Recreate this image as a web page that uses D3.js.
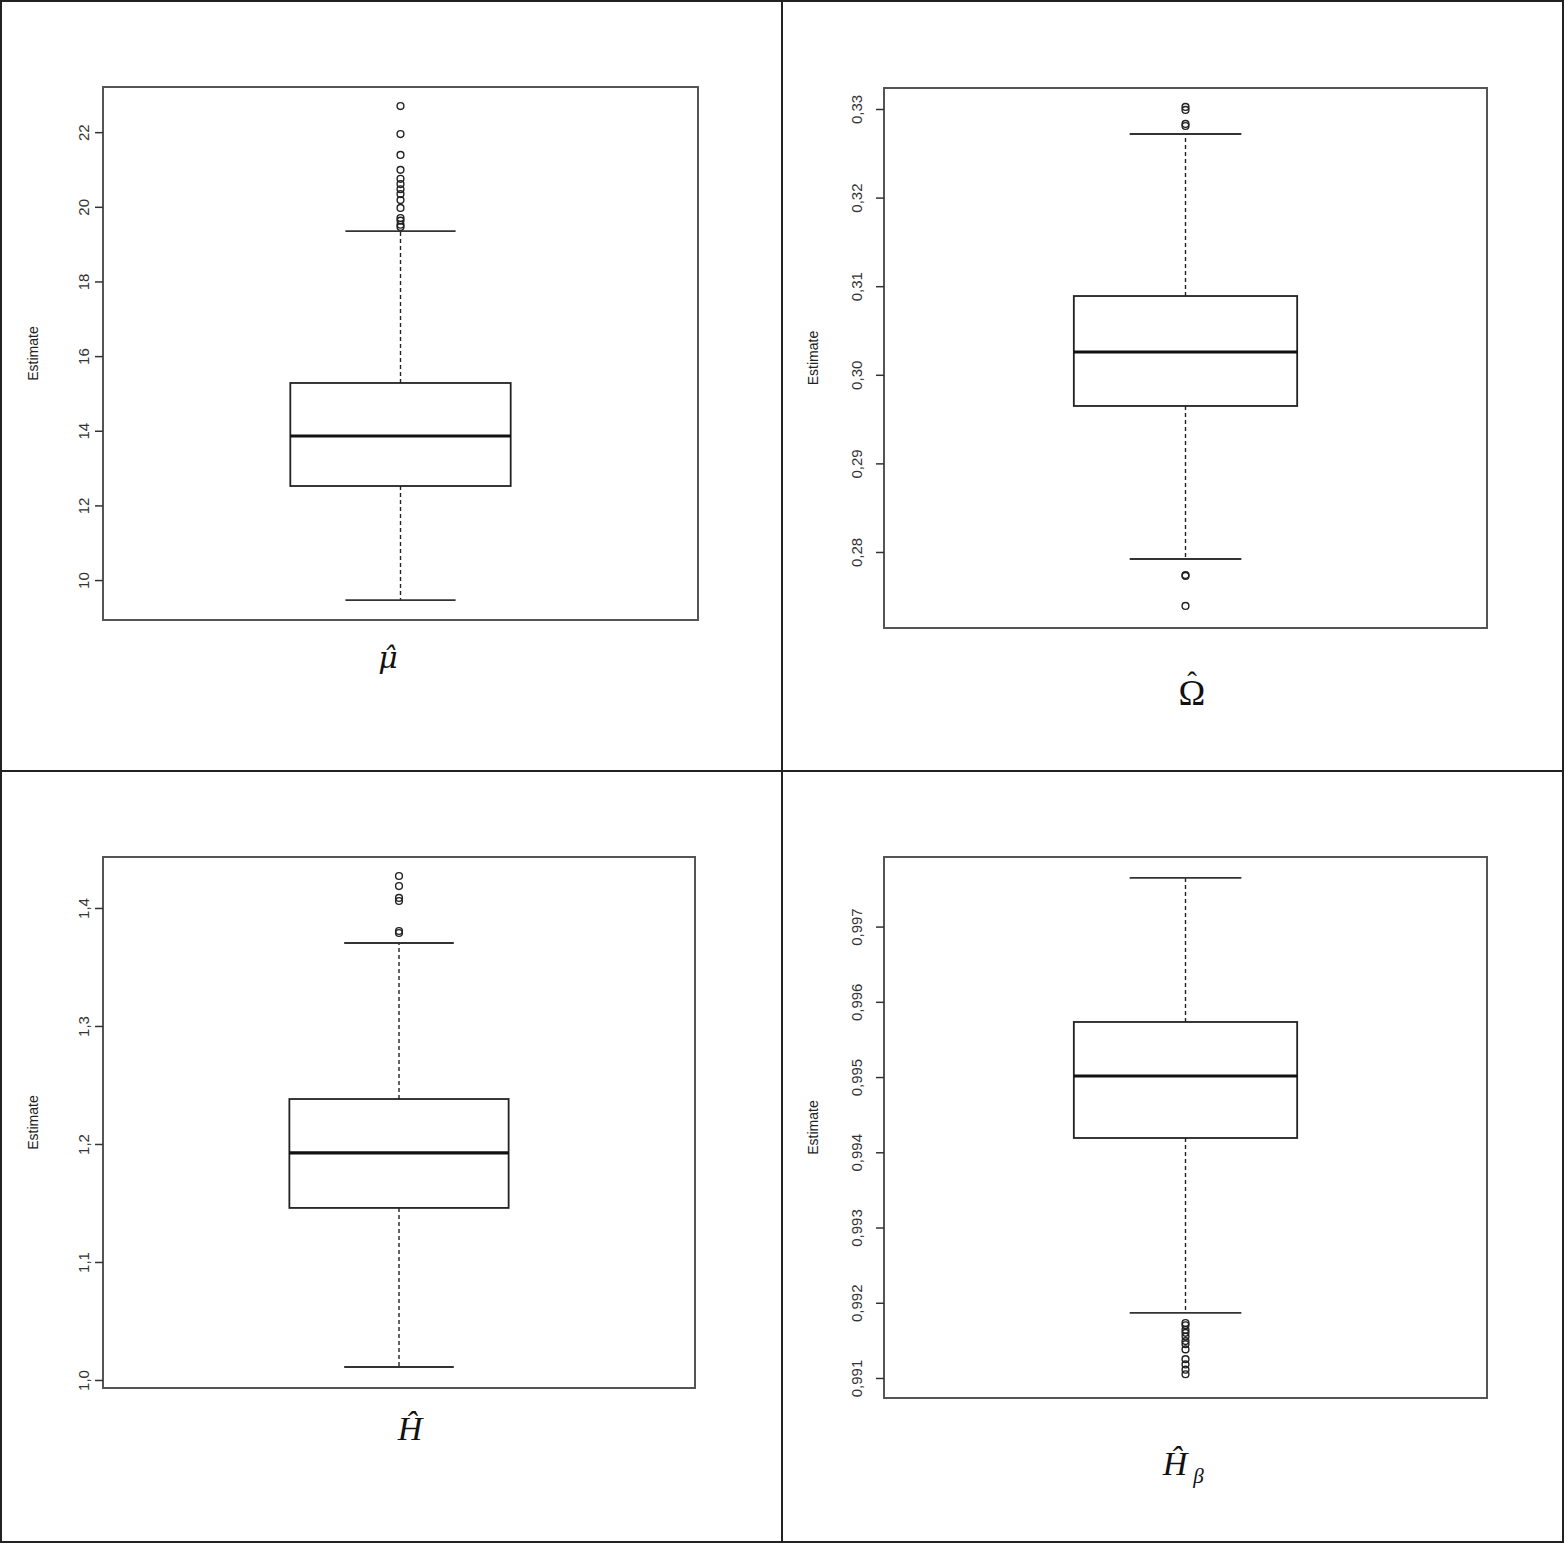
<!DOCTYPE html>
<html><head><meta charset="utf-8">
<script src="https://cdn.jsdelivr.net/npm/d3@7"></script>
<style>body{margin:0;background:#fff}</style>
</head><body>
<svg id="c" width="1565" height="1544"></svg>
<script>
// ---- data ----
const panelNames = ["mu", "Omega", "H", "Hbeta"];
const q1 = [12.52, 0.29648, 1.1458, 0.99419];
const medians = [13.86, 0.30257, 1.1924, 0.995014];
const q3 = [15.28, 0.30889, 1.2381, 0.995732];
const whiskerLow = [9.46, 0.27921, 1.0110, 0.991865];
const whiskerHigh = [19.35, 0.32718, 1.3703, 0.997647];
const outliersMu = [22.70, 21.95, 21.39, 20.99, 20.75, 20.61, 20.47, 20.34, 20.18, 19.97, 19.70, 19.63, 19.52, 19.46];
const outliersOmega = [0.33023, 0.32989, 0.32831, 0.32808, 0.27740, 0.27730, 0.27391];
const outliersH = [1.4271, 1.4186, 1.4085, 1.4059, 1.3805, 1.3788];
const outliersHbeta = [0.99173, 0.99170, 0.99164, 0.99160, 0.99155, 0.99149, 0.99145, 0.99138, 0.99125, 0.99118, 0.99111, 0.99105];
const outliers = [outliersMu, outliersOmega, outliersH, outliersHbeta];
const ticksMu = [10, 12, 14, 16, 18, 20, 22];
const ticksOmega = [0.28, 0.29, 0.30, 0.31, 0.32, 0.33];
const ticksH = [1.0, 1.1, 1.2, 1.3, 1.4];
const ticksHbeta = [0.991, 0.992, 0.993, 0.994, 0.995, 0.996, 0.997];
const tickValues = [ticksMu, ticksOmega, ticksH, ticksHbeta];
const tickLabelsMu = ["10", "12", "14", "16", "18", "20", "22"];
const tickLabelsOmega = ["0,28", "0,29", "0,30", "0,31", "0,32", "0,33"];
const tickLabelsH = ["1,0", "1,1", "1,2", "1,3", "1,4"];
const tickLabelsHbeta = ["0,991", "0,992", "0,993", "0,994", "0,995", "0,996", "0,997"];
const tickLabels = [tickLabelsMu, tickLabelsOmega, tickLabelsH, tickLabelsHbeta];
const yDomains = [[8.93, 23.21], [0.27142, 0.33237], [0.9932, 1.4432], [0.990734, 0.997925]];
const yLabel = "Estimate";
// labels: combining circumflex where the font positions it well; separate raised hat for Ω
const xLabelBase = ["\u03BC\u0302", "\u03A9", "H\u0302", "H\u0302"];
const xLabelHat = ["", "\u02C6", "", ""];
const xLabelSub = ["", "", "", "\u03B2"];

// ---- layout ----
const layout = [
  {l:103, r:698, t:87, b:620, tickLx:83, ylx:33, xl:[388, 668], italic:true, fs:30, font:"DejaVu Serif, serif"},
  {l:884, r:1487, t:88, b:628, tickLx:856, ylx:813, xl:[1192, 705], italic:false, fs:36, font:"Liberation Serif, serif"},
  {l:103, r:695, t:857, b:1388, tickLx:83, ylx:33, xl:[410, 1440], italic:true, fs:34, font:"Liberation Serif, serif"},
  {l:884, r:1487, t:857, b:1398, tickLx:856, ylx:813, xl:[1175, 1475], italic:true, fs:34, font:"Liberation Serif, serif"}
];

const svg = d3.select("#c");
// outer table frame
const frame = svg.append("g").attr("stroke", "#222").attr("stroke-width", 2).attr("fill", "none");
frame.append("rect").attr("x", 1).attr("y", 1).attr("width", 1562).attr("height", 1541);
frame.append("line").attr("x1", 782).attr("x2", 782).attr("y1", 1).attr("y2", 1542);
frame.append("line").attr("x1", 1).attr("x2", 1563).attr("y1", 771).attr("y2", 771);

panelNames.forEach((name, i) => {
  const L = layout[i];
  const g = svg.append("g").attr("class", "panel-" + name);
  const y = d3.scaleLinear().domain(yDomains[i]).range([L.b, L.t]);
  const x = d3.scaleLinear().domain([0.46, 1.54]).range([L.l, L.r]);

  // plot frame
  g.append("rect").attr("x", L.l).attr("y", L.t).attr("width", L.r - L.l).attr("height", L.b - L.t)
    .attr("fill", "none").attr("stroke", "#555").attr("stroke-width", 2);

  // y axis
  const axis = d3.axisLeft(y).tickValues(tickValues[i]).tickSize(8)
    .tickFormat((d, k) => tickLabels[i][k]);
  const ag = g.append("g").attr("transform", `translate(${L.l},0)`).call(axis);
  ag.select(".domain").remove();
  ag.selectAll(".tick line").attr("stroke", "#333").attr("stroke-width", 1.5);
  ag.selectAll(".tick text").attr("x", null).attr("dy", null)
    .attr("transform", `translate(${L.tickLx - L.l},0) rotate(-90)`)
    .attr("text-anchor", "middle").attr("dominant-baseline", "central")
    .attr("font-family", "Liberation Sans, Arial, sans-serif").attr("font-size", 15).attr("fill", "#333");

  // y label
  g.append("text").attr("transform", `translate(${L.ylx},${(L.t + L.b) / 2}) rotate(-90)`)
    .attr("text-anchor", "middle").attr("dominant-baseline", "central")
    .attr("font-family", "Liberation Sans, Arial, sans-serif").attr("font-size", 14).attr("fill", "#222")
    .text(yLabel);

  const cx = x(1), bw = x(1.2) - x(1), cw = x(1.1) - x(1);
  // whiskers (dashed)
  g.append("line").attr("x1", cx).attr("x2", cx).attr("y1", y(q3[i])).attr("y2", y(whiskerHigh[i]))
    .attr("stroke", "#222").attr("stroke-width", 1.4).attr("stroke-dasharray", "4,3");
  g.append("line").attr("x1", cx).attr("x2", cx).attr("y1", y(q1[i])).attr("y2", y(whiskerLow[i]))
    .attr("stroke", "#222").attr("stroke-width", 1.4).attr("stroke-dasharray", "4,3");
  // staples
  [whiskerHigh[i], whiskerLow[i]].forEach(v => {
    g.append("line").attr("x1", cx - cw).attr("x2", cx + cw).attr("y1", y(v)).attr("y2", y(v))
      .attr("stroke", "#333").attr("stroke-width", 1.8);
  });
  // box
  g.append("rect").attr("x", cx - bw).attr("width", 2 * bw).attr("y", y(q3[i])).attr("height", y(q1[i]) - y(q3[i]))
    .attr("fill", "#fff").attr("stroke", "#222").attr("stroke-width", 1.8);
  // median
  g.append("line").attr("x1", cx - bw).attr("x2", cx + bw).attr("y1", y(medians[i])).attr("y2", y(medians[i]))
    .attr("stroke", "#111").attr("stroke-width", 3.2);
  // outliers
  g.selectAll("circle.o").data(outliers[i]).join("circle").attr("class", "o")
    .attr("cx", cx).attr("cy", d => y(d)).attr("r", 3.4)
    .attr("fill", "none").attr("stroke", "#222").attr("stroke-width", 1.4);

  // x label
  const xl = g.append("text").attr("y", L.xl[1])
    .attr("font-family", L.font).attr("font-size", L.fs).attr("fill", "#111");
  const base = xl.append("tspan").attr("font-style", L.italic ? "italic" : "normal").text(xLabelBase[i]);
  const w = base.node().getComputedTextLength();
  xl.attr("x", L.xl[0] - w / 2);
  if (xLabelHat[i]) {
    const hat = xl.append("tspan").attr("font-size", L.fs * 0.8).text(xLabelHat[i]);
    const hw = hat.node().getComputedTextLength();
    hat.attr("dx", -(w / 2 + hw / 2)).attr("dy", -13);
  }
  if (xLabelSub[i]) {
    xl.append("tspan").attr("font-style", "italic").attr("font-size", L.fs * 0.62).attr("dx", 6).attr("dy", 8).text(xLabelSub[i]);
  }
});
</script>
</body></html>
